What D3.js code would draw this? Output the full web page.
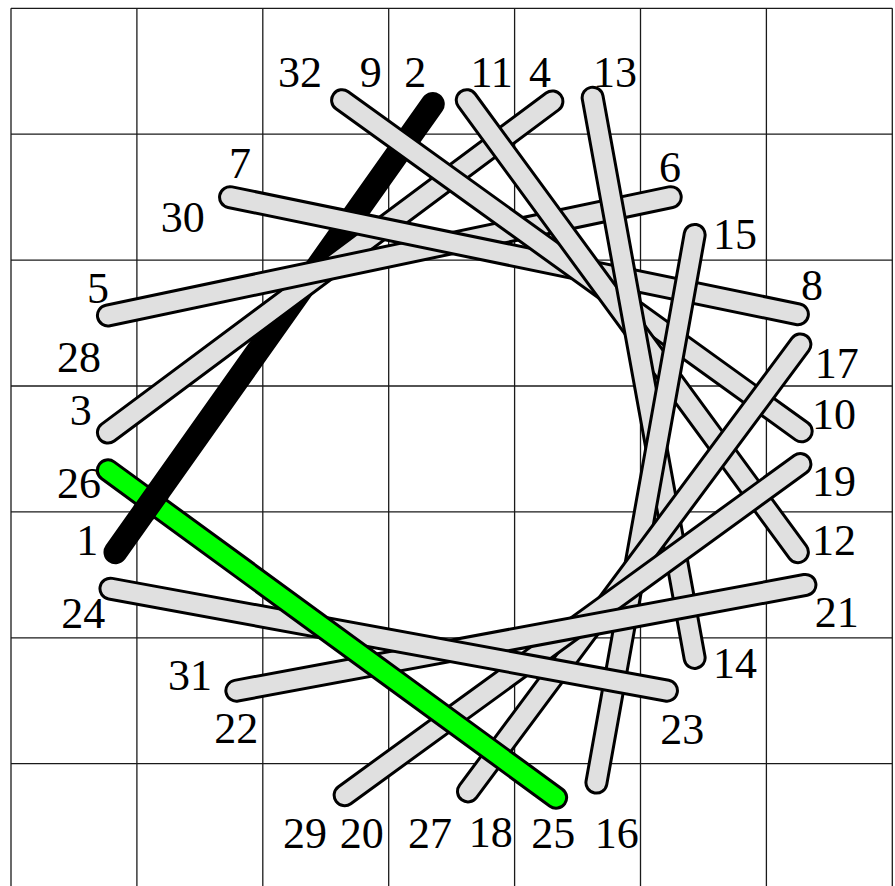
<!DOCTYPE html>
<html><head><meta charset="utf-8">
<script src="https://cdn.jsdelivr.net/npm/d3@7"></script>
<style>html,body{margin:0;padding:0;background:#fff;overflow:hidden}</style>
</head><body><svg id="c" width="895" height="886"></svg>
<script>
// ---- data (grid units, 7 x 7 board) ----
const gridTicks = [0, 1, 2, 3, 4, 5, 6, 7];

const endpointIds = [1,2,3,4,5,6,7,8,9,10,11,12,13,14,15,16,17,18,19,20,21,22,23,24,25,26];
const endpointX = [0.83,3.35,0.77,4.30,0.77,5.24,1.74,6.25,2.63,6.28,3.62,6.25,4.62,5.43,5.43,4.65,6.27,3.63,6.27,2.65,6.31,1.79,5.21,0.79,4.33,0.77];
const endpointY = [4.32,0.76,3.37,0.74,2.44,1.50,1.50,2.43,0.73,3.36,0.73,4.32,0.71,5.16,1.80,6.15,2.67,6.22,3.62,6.25,4.58,5.42,5.42,4.61,6.27,3.67];

const sticks = [[1,2],[3,4],[5,6],[7,8],[9,10],[11,12],[13,14],[15,16],[17,18],[19,20],[21,22],[23,24],[25,26]];

const labelIds = [32,9,2,11,4,13,7,30,6,15,5,8,28,17,3,10,26,19,1,12,24,21,31,14,22,23,29,20,27,18,25,16];
const labelX = [2.295,2.857,3.211,3.818,4.202,4.797,1.819,1.364,5.234,5.751,0.691,6.362,0.540,6.558,0.554,6.537,0.540,6.537,0.606,6.537,0.574,6.558,1.422,5.751,1.790,5.332,2.335,2.786,3.328,3.810,4.307,4.811];
const labelY = [0.508,0.508,0.508,0.508,0.508,0.508,1.231,1.660,1.258,1.795,2.224,2.198,2.767,2.820,3.191,3.225,3.773,3.755,4.223,4.223,4.801,4.793,5.296,5.203,5.714,5.724,6.553,6.553,6.553,6.540,6.550,6.550];

const totalPairs = 16;

// ---- drawing ----
const svg = d3.select('#c');
const x = d3.scaleLinear().domain([0, 7]).range([11, 892.3]);
const y = d3.scaleLinear().domain([0, 7]).range([8.3, 889.6]);

const OUTER = 24, INNER = 18;

const grid = svg.append('g').attr('stroke', '#1a1a1a').attr('stroke-width', 1.3);
grid.selectAll('line.v').data(gridTicks).join('line').attr('class', 'v')
  .attr('x1', d => x(d)).attr('x2', d => x(d)).attr('y1', y(0)).attr('y2', y(7));
grid.selectAll('line.h').data(gridTicks).join('line').attr('class', 'h')
  .attr('y1', d => y(d)).attr('y2', d => y(d)).attr('x1', x(0)).attr('x2', x(7));

const labels = labelIds.map((id, i) => ({id, x: labelX[i], y: labelY[i]}));
svg.append('g').selectAll('text').data(labels).join('text')
  .attr('x', d => x(d.x)).attr('y', d => y(d.y)).attr('dy', '0.34em')
  .attr('text-anchor', 'middle')
  .attr('font-family', '"Liberation Serif", "DejaVu Serif", serif')
  .attr('font-size', 44).attr('fill', '#000')
  .text(d => d.id);

const pt = id => { const i = endpointIds.indexOf(id); return [x(endpointX[i]), y(endpointY[i])]; };

const stickData = sticks.map((s, i) => {
  const a = pt(s[0]), b = pt(s[1]);
  const pair = (s[0] + 1) / 2;
  const fill = pair === 1 ? '#000000' : (pair === 13 ? '#00ff00' : '#e0e0e0');
  return {i, ids: s, a, b, pair, fill};
});

function drawStick(g, d) {
  g.append('line').attr('x1', d.a[0]).attr('y1', d.a[1]).attr('x2', d.b[0]).attr('y2', d.b[1])
    .attr('stroke', '#000').attr('stroke-width', OUTER).attr('stroke-linecap', 'round');
  g.append('line').attr('x1', d.a[0]).attr('y1', d.a[1]).attr('x2', d.b[0]).attr('y2', d.b[1])
    .attr('stroke', d.fill).attr('stroke-width', INNER).attr('stroke-linecap', 'round');
}

const sg = svg.append('g');
stickData.forEach(d => drawStick(sg.append('g'), d));

// crossings: cyclic over/under rule
function isOver(p, q) { const diff = ((p.pair - q.pair) % totalPairs + totalPairs) % totalPairs; return diff >= 1 && diff <= 7; }
function intersect(p, q) {
  const r = [p.b[0] - p.a[0], p.b[1] - p.a[1]], s = [q.b[0] - q.a[0], q.b[1] - q.a[1]];
  const den = r[0] * s[1] - r[1] * s[0];
  if (Math.abs(den) < 1e-9) return null;
  const qp = [q.a[0] - p.a[0], q.a[1] - p.a[1]];
  const t = (qp[0] * s[1] - qp[1] * s[0]) / den;
  const u = (qp[0] * r[1] - qp[1] * r[0]) / den;
  if (t < 0 || t > 1 || u < 0 || u > 1) return null;
  return {pt: [p.a[0] + t * r[0], p.a[1] + t * r[1]], r, s};
}
const defs = svg.append('defs');
let clipN = 0;
stickData.forEach((p, i) => {
  stickData.forEach((q, j) => {
    if (j <= i || !isOver(p, q)) return;
    const X = intersect(p, q);
    if (!X) return;
    const ls = Math.hypot(...X.s), lr = Math.hypot(...X.r);
    const us = [X.s[0] / ls, X.s[1] / ls], ur = [X.r[0] / lr, X.r[1] / lr];
    const sinT = Math.abs(us[0] * ur[1] - us[1] * ur[0]);
    const cosT = Math.abs(us[0] * ur[0] + us[1] * ur[1]);
    const hw = OUTER / 2 + 1.5;
    const L = hw / sinT + hw * cosT / sinT + 3;
    const n = [-us[1], us[0]];
    const c = X.pt;
    const poly = [[c[0] - us[0] * L + n[0] * hw, c[1] - us[1] * L + n[1] * hw],
                  [c[0] + us[0] * L + n[0] * hw, c[1] + us[1] * L + n[1] * hw],
                  [c[0] + us[0] * L - n[0] * hw, c[1] + us[1] * L - n[1] * hw],
                  [c[0] - us[0] * L - n[0] * hw, c[1] - us[1] * L - n[1] * hw]];
    const id = 'clip' + (clipN++);
    defs.append('clipPath').attr('id', id).append('polygon').attr('points', poly.map(v => v.join(',')).join(' '));
    drawStick(sg.append('g').attr('clip-path', `url(#${id})`), p);
  });
});
</script></body></html>
